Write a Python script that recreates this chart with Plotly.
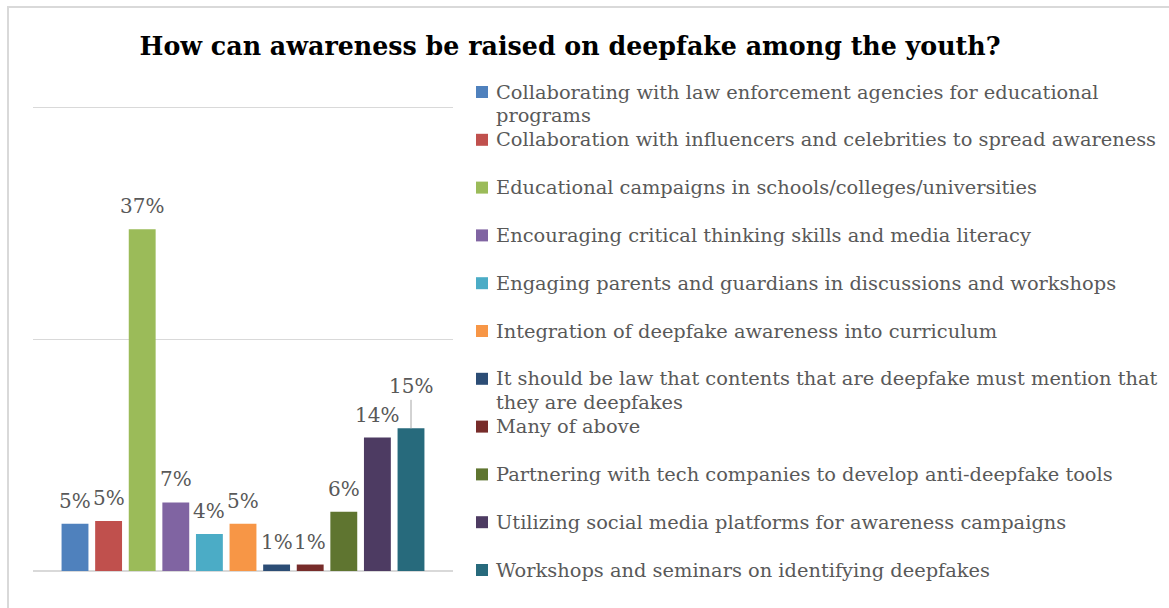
import textwrap
import plotly.graph_objects as go

# Survey answers and their share of respondents (%)
categories = [
    "Collaborating with law enforcement agencies for educational programs",
    "Collaboration with influencers and celebrities to spread awareness",
    "Educational campaigns in schools/colleges/universities",
    "Encouraging critical thinking skills and media literacy",
    "Engaging parents and guardians in discussions and workshops",
    "Integration of deepfake awareness into curriculum",
    "It should be law that contents that are deepfake must mention that they are deepfakes",
    "Many of above",
    "Partnering with tech companies to develop anti-deepfake tools",
    "Utilizing social media platforms for awareness campaigns",
    "Workshops and seminars on identifying deepfakes",
]
shares = [5.1, 5.4, 36.9, 7.4, 4.0, 5.1, 0.7, 0.7, 6.4, 14.4, 15.4]
colors = ["#4F81BD", "#C0504D", "#9BBB59", "#8064A2", "#4BACC6", "#F79646",
          "#2C4D75", "#772C2A", "#5F7530", "#4D3B62", "#276A7C"]
title = "How can awareness be raised on deepfake among the youth?"

W, H = 1169, 608
PLOT_L, PLOT_R, PLOT_T, PLOT_B = 33, 453, 106, 571
SERIF = "DejaVu Serif"
TEXT_GRAY = "#595959"


def px_x(px):
    return (px - PLOT_L) / (PLOT_R - PLOT_L)


def px_y(py):
    return (PLOT_B - py) / (PLOT_B - PLOT_T)


fig = go.Figure()
for i, (cat, val, col) in enumerate(zip(categories, shares, colors)):
    fig.add_trace(go.Bar(x=[i], y=[val], name=cat, marker_color=col,
                         marker_line_width=0, width=0.8, showlegend=False,
                         hovertemplate="%{y:.0f}%<extra>" + cat + "</extra>"))

# value labels above the bars
for i, val in enumerate(shares):
    label = f"{round(val)}%"
    if i == len(shares) - 1:
        fig.add_annotation(x=i, y=val, text=label, showarrow=True, ax=0, ay=-42,
                           arrowhead=0, arrowwidth=1, arrowcolor="#A6A6A6",
                           standoff=0, font=dict(family=SERIF, size=20, color=TEXT_GRAY))
    else:
        fig.add_annotation(x=i, y=val, text=label, showarrow=False, yanchor="bottom",
                           yshift=9, font=dict(family=SERIF, size=20, color=TEXT_GRAY))

# legend on the right
LEG_Y0, LEG_STEP, LINE_STEP = 92, 47.8, 24
for i, (cat, col) in enumerate(zip(categories, colors)):
    cy = LEG_Y0 + i * LEG_STEP
    fig.add_shape(type="rect", xref="paper", yref="paper",
                  x0=px_x(476), x1=px_x(488), y0=px_y(cy - 6), y1=px_y(cy + 6),
                  fillcolor=col, line_width=0)
    for j, line in enumerate(textwrap.wrap(cat, 66)):
        fig.add_annotation(xref="paper", yref="paper", x=px_x(494), y=px_y(cy + j * LINE_STEP),
                           xanchor="left", yanchor="middle", text=line, showarrow=False,
                           font=dict(family=SERIF, size=19.4, color=TEXT_GRAY))

# outer chart border
fig.add_shape(type="rect", xref="paper", yref="paper",
              x0=px_x(8), y0=px_y(620), x1=px_x(1180), y1=px_y(7),
              line=dict(color="#D9D9D9", width=2), fillcolor="rgba(0,0,0,0)", layer="below")

fig.update_layout(
    width=W, height=H,
    margin=dict(l=PLOT_L, r=W - PLOT_R, t=PLOT_T, b=H - PLOT_B, pad=0),
    paper_bgcolor="white", plot_bgcolor="white",
    barmode="overlay",
    title=dict(text=f"<b>{title}</b>", x=570 / W, xanchor="center", xref="container",
               y=1 - 46 / H, yanchor="middle", yref="container",
               font=dict(family=SERIF, size=25.3, color="black")),
    xaxis=dict(range=[-1.25, 11.25], showticklabels=False, showgrid=False,
               zeroline=False, showline=False, ticks=""),
    yaxis=dict(range=[0, 50.2], tickvals=[25, 50], showticklabels=False, showgrid=True,
               gridcolor="#D9D9D9", gridwidth=1, zeroline=True, zerolinecolor="#D9D9D9",
               zerolinewidth=2, showline=False, ticks=""),
)

fig.write_html("out.html")
